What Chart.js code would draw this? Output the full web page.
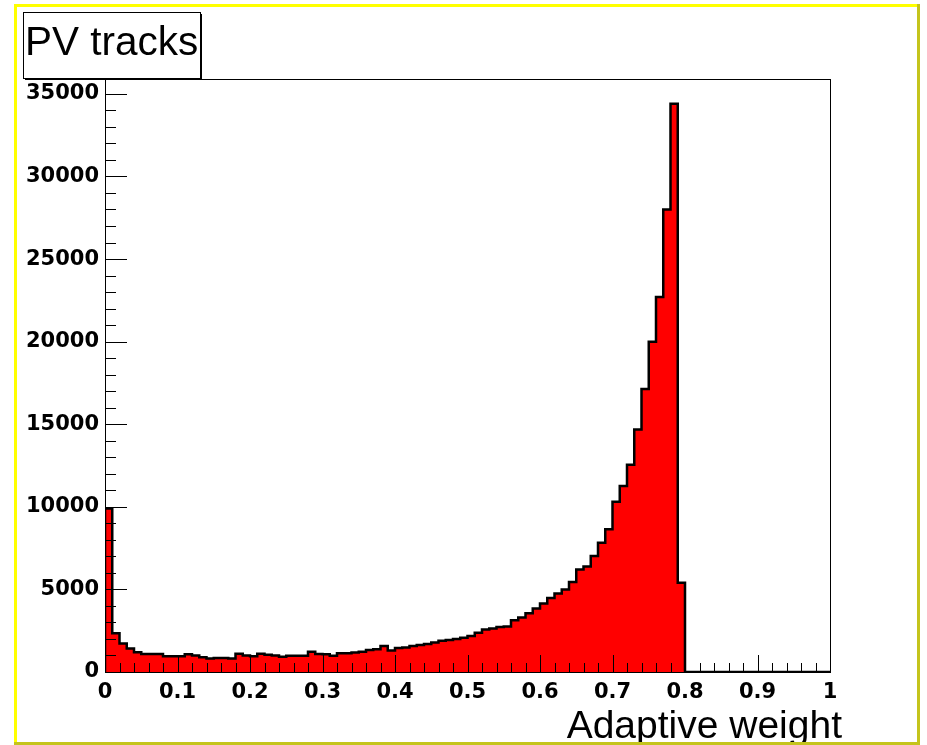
<!DOCTYPE html>
<html><head><meta charset="utf-8">
<script src="https://cdn.jsdelivr.net/npm/chart.js@4/dist/chart.umd.min.js"></script>
<style>html,body{margin:0;padding:0;background:#fff;} canvas{display:block;}</style>
</head><body>
<canvas id="c" width="927" height="745"></canvas>
<script>
const histTitle = 'PV tracks';
const xAxisTitle = 'Adaptive weight';
const xMin = 0, xMax = 1, nBins = 100;
const counts = [
  9900, 2350, 1730, 1430, 1190, 1090, 1090, 1090, 950, 950,
  950, 1070, 1000, 900, 820, 850, 850, 810, 1100, 1000,
  950, 1100, 1050, 1000, 920, 990, 990, 990, 1230, 1090,
  1070, 990, 1130, 1130, 1180, 1230, 1330, 1380, 1580, 1300,
  1450, 1480, 1580, 1640, 1690, 1790, 1890, 1930, 2000, 2080,
  2180, 2380, 2580, 2640, 2720, 2750, 3140, 3300, 3550, 3850,
  4140, 4480, 4750, 5000, 5450, 6200, 6380, 7030, 7830, 8640,
  10300, 11260, 12550, 14680, 17140, 20000, 22700, 28000, 34400, 5400,
  0, 0, 0, 0, 0, 0, 0, 0, 0, 0,
  0, 0, 0, 0, 0, 0, 0, 0, 0, 0
];
const xTickValues = [0, 0.1, 0.2, 0.3, 0.4, 0.5, 0.6, 0.7, 0.8, 0.9, 1];
const xTickLabels = ['0', '0.1', '0.2', '0.3', '0.4', '0.5', '0.6', '0.7', '0.8', '0.9', '1'];
const yTickValues = [0, 5000, 10000, 15000, 20000, 25000, 30000, 35000];
const yTickLabels = ['0', '5000', '10000', '15000', '20000', '25000', '30000', '35000'];
const yMax = 35900;

const binWidth = (xMax - xMin) / nBins;
const points = [{x: xMin, y: 0}];
counts.forEach((c, i) => points.push({x: xMin + i * binWidth, y: c}));
points.push({x: xMax, y: counts[counts.length - 1]});

const tickFont = {family: '"DejaVu Sans"', size: 21, weight: 'bold'};

const rootDecor = {
  id: 'rootDecor',
  beforeDraw(chart) {
    const ctx = chart.ctx;
    ctx.save();
    ctx.fillStyle = '#ffffff';
    ctx.fillRect(0, 0, chart.width, chart.height);
    ctx.restore();
  },
  afterDatasetsDraw(chart) {
    const {ctx, chartArea: a, scales: {x, y}} = chart;
    ctx.save();
    ctx.strokeStyle = '#000';
    ctx.lineWidth = 1;
    ctx.beginPath();
    for (let i = 0; i < xTickValues.length; i++) {
      const px = Math.round(x.getPixelForValue(xTickValues[i])) + 0.5;
      ctx.moveTo(px, a.bottom); ctx.lineTo(px, a.bottom - 17);
      if (i < xTickValues.length - 1) {
        const step = (xTickValues[i + 1] - xTickValues[i]) / 5;
        for (let k = 1; k < 5; k++) {
          const p = Math.round(x.getPixelForValue(xTickValues[i] + k * step)) + 0.5;
          ctx.moveTo(p, a.bottom); ctx.lineTo(p, a.bottom - 9);
        }
      }
    }
    const yStep = (yTickValues[1] - yTickValues[0]) / 5;
    for (let i = 0; i < yTickValues.length; i++) {
      const py = Math.round(y.getPixelForValue(yTickValues[i])) + 0.5;
      ctx.moveTo(a.left, py); ctx.lineTo(a.left + 22, py);
      for (let k = 1; k < 5; k++) {
        const v = yTickValues[i] + k * yStep;
        if (v > yMax) break;
        const p = Math.round(y.getPixelForValue(v)) + 0.5;
        ctx.moveTo(a.left, p); ctx.lineTo(a.left + 11, p);
      }
    }
    ctx.stroke();
    ctx.strokeRect(Math.round(a.left) + 0.5, Math.round(a.top) + 0.5,
                   Math.round(a.right - a.left), Math.round(a.bottom - a.top));
    ctx.restore();
  },
  afterDraw(chart) {
    const ctx = chart.ctx;
    ctx.save();
    ctx.fillStyle = '#ffffff';
    ctx.fillRect(23, 12, 178, 67);
    ctx.strokeStyle = '#000';
    ctx.lineWidth = 1;
    ctx.strokeRect(23.5, 12.5, 177, 66);
    ctx.fillStyle = '#000';
    ctx.fillRect(200, 14, 2, 66);
    ctx.fillRect(25, 78, 177, 2);
    ctx.font = '40.5px "Liberation Sans"';
    ctx.textBaseline = 'alphabetic';
    ctx.textAlign = 'left';
    ctx.fillText(histTitle, 25, 55);
    ctx.font = '39px "Liberation Sans"';
    ctx.textAlign = 'right';
    ctx.fillText(xAxisTitle, 842, 738);
    ctx.fillStyle = '#ffff00';
    ctx.fillRect(14, 4, 905, 3);
    ctx.fillRect(14, 4, 3, 741);
    ctx.fillStyle = '#c4c41c';
    ctx.fillRect(917, 4, 3, 741);
    ctx.fillRect(14, 742, 906, 3);
    ctx.restore();
  }
};

new Chart(document.getElementById('c'), {
  type: 'line',
  data: {
    datasets: [{
      data: points,
      stepped: 'before',
      borderColor: '#000000',
      borderWidth: 2.5,
      backgroundColor: '#ff0000',
      fill: 'origin',
      pointRadius: 0,
      tension: 0
    }]
  },
  options: {
    responsive: false,
    animation: false,
    devicePixelRatio: 1,
    layout: {padding: {left: 0, top: 79, right: 97, bottom: 0}},
    plugins: {legend: {display: false}, title: {display: false}, tooltip: {enabled: false}},
    scales: {
      x: {
        type: 'linear', min: xMin, max: xMax,
        grid: {display: false, drawTicks: false},
        border: {display: false},
        afterBuildTicks: s => { s.ticks = xTickValues.map(v => ({value: v})); },
        afterFit: s => { s.height = 73; },
        ticks: {padding: 8, autoSkip: false, maxRotation: 0, minRotation: 0, color: '#000', font: tickFont,
                callback: (v, i) => xTickLabels[i]}
      },
      y: {
        type: 'linear', min: 0, max: yMax,
        grid: {display: false, drawTicks: false},
        border: {display: false},
        afterBuildTicks: s => { s.ticks = yTickValues.map(v => ({value: v})); },
        afterFit: s => { s.width = 105; },
        ticks: {padding: 6, autoSkip: false, color: '#000', font: tickFont,
                callback: (v, i) => yTickLabels[i]}
      }
    }
  },
  plugins: [rootDecor]
});
</script>
</body></html>
